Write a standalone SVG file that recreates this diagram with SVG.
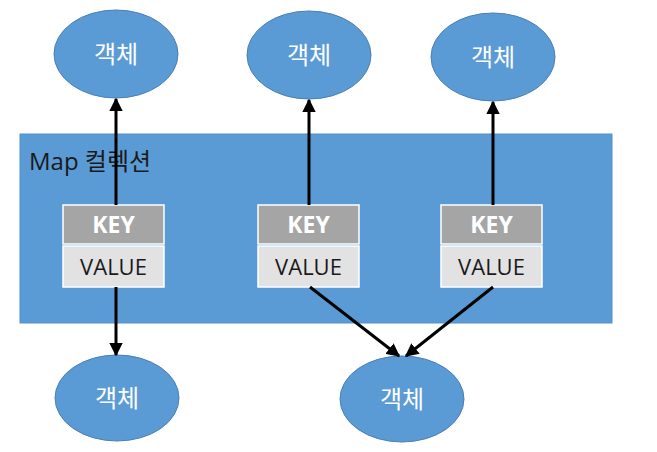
<svg xmlns="http://www.w3.org/2000/svg" width="657" height="452" viewBox="0 0 657 452">
<style>
.obj ellipse{fill:#5B9BD5;stroke:#4A7FB5;stroke-width:1}
.obj text{fill:#fff;font-family:"Noto Sans CJK KR","Noto Sans",sans-serif;font-size:24px;text-anchor:middle}
.key{fill:#A5A5A5;stroke:#fff;stroke-width:1.5}
.val{fill:#E2E2E2;stroke:#fff;stroke-width:1.5}
.kt{fill:#fff;font-family:"Open Sans","Noto Sans",sans-serif;font-weight:bold;font-size:23px;text-anchor:middle}
.vt{fill:#1a1a1a;font-family:"Open Sans","Noto Sans",sans-serif;font-size:22px;text-anchor:middle}
.conn line{stroke:#000;stroke-width:3;marker-end:url(#ah)}
</style>
<defs>
<marker id="ah" viewBox="0 0 10 10" refX="9" refY="5" markerWidth="4.5" markerHeight="4.5" orient="auto" markerUnits="strokeWidth">
<path d="M0,0 L10,5 L0,10 z" fill="#000"/>
</marker>
</defs>
<rect width="657" height="452" fill="#fff"/>
<g id="map">
<rect x="20" y="134" width="592" height="189" fill="#5B9BD5" stroke="#5090CC" stroke-width="1"/>
<text x="29" y="170" font-family="Open Sans,Noto Sans CJK KR,sans-serif" font-size="24" fill="#1a1a1a">Map 컬렉션</text>
</g>
<g id="entry1">
<rect class="key" x="63" y="205" width="101" height="39"/>
<rect class="val" x="63" y="246" width="101" height="41"/>
<text class="kt" x="113.5" y="233">KEY</text>
<text class="vt" x="113.5" y="275">VALUE</text>
</g>
<g id="entry2">
<rect class="key" x="258" y="205" width="101" height="39"/>
<rect class="val" x="258" y="246" width="101" height="41"/>
<text class="kt" x="308.5" y="233">KEY</text>
<text class="vt" x="308.5" y="275">VALUE</text>
</g>
<g id="entry3">
<rect class="key" x="441" y="205" width="101" height="39"/>
<rect class="val" x="441" y="246" width="101" height="41"/>
<text class="kt" x="491.5" y="233">KEY</text>
<text class="vt" x="491.5" y="275">VALUE</text>
</g>
<g id="obj1" class="obj"><ellipse cx="116" cy="54" rx="62" ry="44"/><text x="116" y="63">객체</text></g>
<g id="obj2" class="obj"><ellipse cx="309" cy="55" rx="62" ry="44"/><text x="309" y="64">객체</text></g>
<g id="obj3" class="obj"><ellipse cx="493" cy="57" rx="62" ry="44"/><text x="493" y="66">객체</text></g>
<g id="obj4" class="obj"><ellipse cx="117" cy="398" rx="62" ry="43"/><text x="117" y="407">객체</text></g>
<g id="obj5" class="obj"><ellipse cx="402" cy="399" rx="62" ry="43"/><text x="402" y="408">객체</text></g>
<g class="conn" id="connectors">
<line x1="116" y1="205" x2="116" y2="99"/>
<line x1="309" y1="205" x2="309" y2="100"/>
<line x1="493" y1="205" x2="493" y2="102"/>
<line x1="116" y1="287" x2="116" y2="355"/>
<line x1="310" y1="287" x2="399" y2="356"/>
<line x1="493" y1="287" x2="406" y2="356"/>
</g>
</svg>
